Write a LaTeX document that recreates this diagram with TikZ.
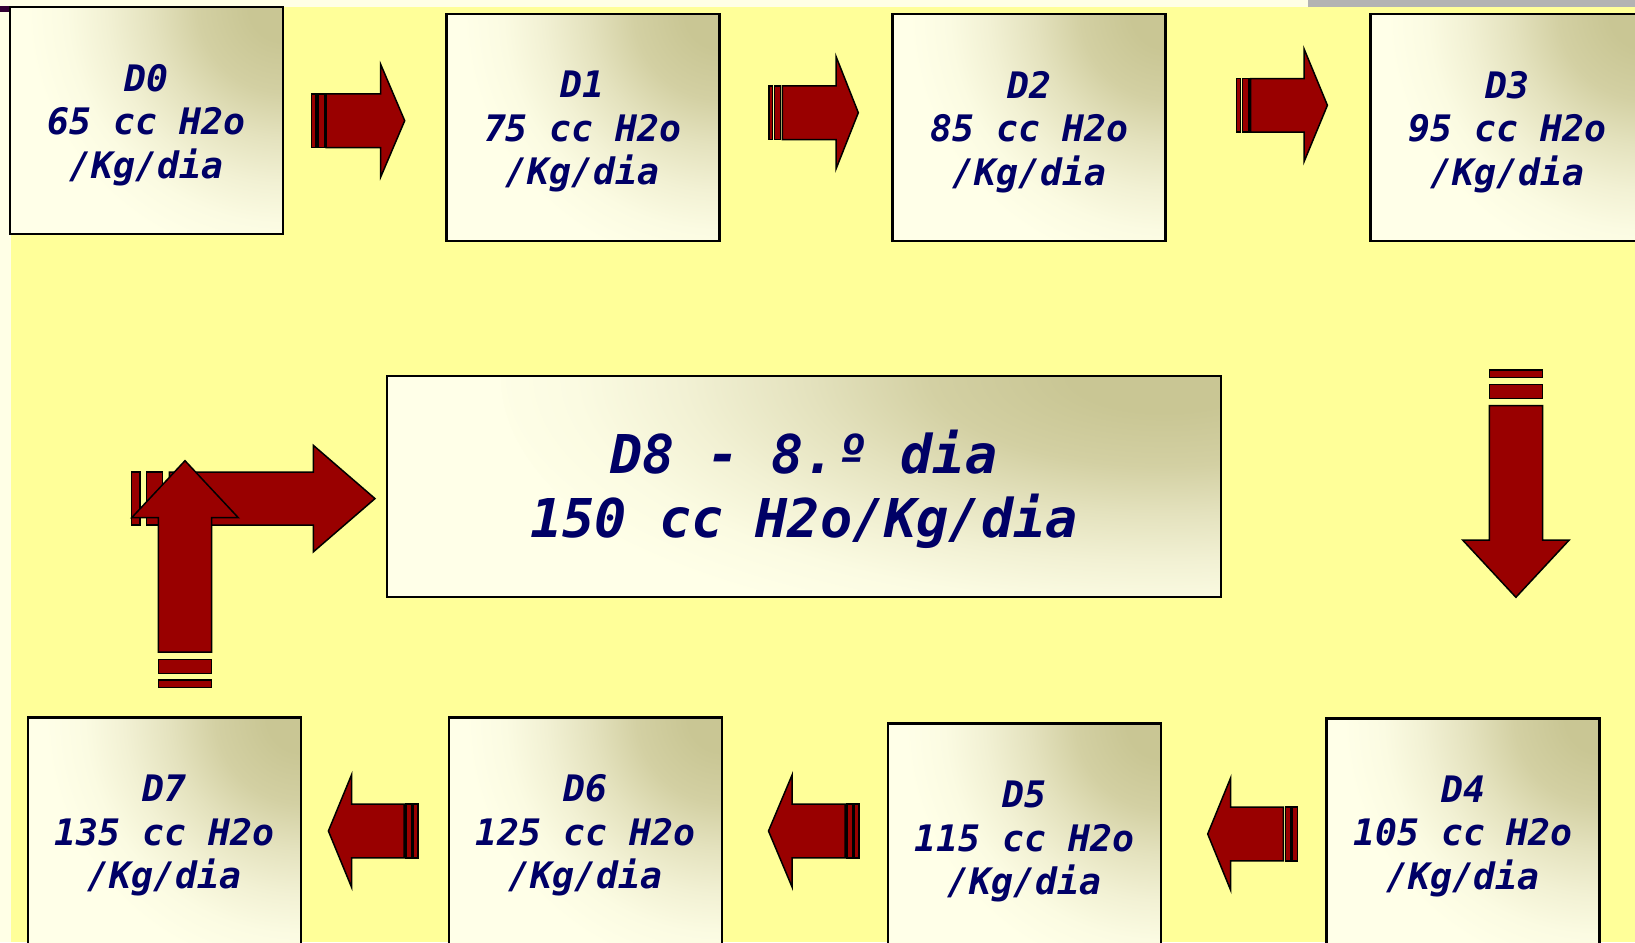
\documentclass[tikz,border=0pt]{standalone}
\usepackage{fontspec}
\newfontfamily\dmono{DejaVu Sans Mono}
\definecolor{bgyellow}{HTML}{FFFF99}
\definecolor{cream}{HTML}{FFFFE6}
\definecolor{boxlight}{HTML}{FFFFE8}
\definecolor{boxs1}{HTML}{D3D0A3}
\definecolor{boxs2}{HTML}{E4E2BE}
\definecolor{boxs3}{HTML}{F2F1D4}
\definecolor{boxs4}{HTML}{FBFBE2}
\definecolor{boxdark}{HTML}{C9C694}
\definecolor{arrred}{HTML}{990000}
\definecolor{navy}{HTML}{000066}
\definecolor{barg}{HTML}{B3B3B3}
\definecolor{markc}{HTML}{330033}
\pgfdeclareradialshading{cornershade}{\pgfpoint{0bp}{0bp}}{color(0bp)=(boxdark); color(3bp)=(boxdark); color(7.5bp)=(boxs1); color(11.5bp)=(boxs2); color(15.5bp)=(boxs3); color(19bp)=(boxs4); color(22.5bp)=(boxlight); color(50bp)=(boxlight)}
\tikzset{
  box/.style={draw=black, line width=2.5pt, minimum width=273pt, minimum height=227pt,
    inner sep=0pt, fill=boxlight,
    path picture={\shade[shading=cornershade] (path picture bounding box.north east) ellipse (285pt and 285pt);}},
  bigbox/.style={box, minimum width=834pt, minimum height=221pt,
    path picture={\shade[shading=cornershade] (path picture bounding box.north east) ellipse (720pt and 300pt);}},
  txt/.style={text=navy, align=center, inner sep=0pt,
    font=\dmono\bfseries\itshape\fontsize{36.5}{43.5}\selectfont},
  bigtxt/.style={txt, font=\dmono\bfseries\itshape\fontsize{53.5}{64}\selectfont},
  arr/.style={fill=arrred, draw=black, line width=1.5pt, line join=miter},
}
\newcommand\barr[9]{%
  \begin{scope}[shift={(#1,#2)},rotate=#3]
    \filldraw[arr] (0,-\bh) rectangle (#4,\bh);
    \filldraw[arr] (#5,-\bh) rectangle (#6,\bh);
    \filldraw[arr] (#7,-\bh) -- (#8,-\bh) -- (#8,-\hh) -- (#9,0) -- (#8,\hh) -- (#8,\bh) -- (#7,\bh) -- cycle;
  \end{scope}}
\begin{document}
\begin{tikzpicture}[x=1pt,y=-1pt]
\useasboundingbox (0,0) rectangle (1635,942);
\clip (0,0) rectangle (1635,942);
\fill[cream] (0,0) rectangle (1635,942);
\fill[bgyellow] (11,7) rectangle (1635,942);
\fill[barg] (1308,0) rectangle (1635,6.7);
\fill[markc] (0,6) rectangle (10,12);

% boxes
\node[box] (D0) at (146.5,120.3) {};
\node[box] (D1) at (582.9,127.3) {};
\node[box] (D2) at (1029.2,127.3) {};
\node[box] (D3) at (1507.2,127.4) {};
\node[box] (D4) at (1463,831.8) {};
\node[box] (D5) at (1024.5,837.1) {};
\node[box] (D6) at (585.5,830.9) {};
\node[box] (D7) at (164.5,831.2) {};
\node[bigbox] (D8) at (804,486.5) {};

\node[txt,yshift=-4.5pt] (T0) at (D0) {D0\\65 cc H2o\\/Kg/dia};
\node[txt,yshift=-4.5pt] (T1) at (D1) {D1\\75 cc H2o\\/Kg/dia};
\node[txt,yshift=-4.5pt] (T2) at (D2) {D2\\85 cc H2o\\/Kg/dia};
\node[txt,yshift=-4.5pt] (T3) at (D3) {D3\\95 cc H2o\\/Kg/dia};
\node[txt,yshift=-4.5pt] (T4) at (D4) {D4\\105 cc H2o\\/Kg/dia};
\node[txt,yshift=-4.5pt] (T5) at (D5) {D5\\115 cc H2o\\/Kg/dia};
\node[txt,yshift=-4.5pt] (T6) at (D6) {D6\\125 cc H2o\\/Kg/dia};
\node[txt,yshift=-4.5pt] (T7) at (D7) {D7\\135 cc H2o\\/Kg/dia};
\node[bigtxt,yshift=-3pt] (T8) at (D8) {D8 - 8.º dia\\150 cc H2o/Kg/dia};

% short arrows
\def\bh{26.8}\def\hh{56.3}
\barr{311.7}{120.7}{0}{4.3}{6.3}{13.3}{14.5}{69}{93}
\barr{769}{112.7}{0}{3.5}{5.3}{11.7}{13.3}{67}{89.3}
\barr{1236.6}{105.3}{0}{4}{6}{12.5}{14}{67.5}{90.8}
\barr{1297.3}{834}{180}{4.6}{6.3}{12}{14}{66.6}{89.6}
\barr{859.2}{831}{180}{4.5}{6.3}{12}{14}{67}{90.7}
\barr{418.1}{831}{180}{4.5}{6.3}{12}{14}{66.5}{89.7}

% long arrows
\def\bh{26.6}\def\hh{53.3}
\barr{1515.9}{370}{-90}{7.3}{14.3}{28.3}{35.7}{170}{227.3}
\def\bh{26.4}
\barr{131.7}{498.6}{0}{8.3}{15}{30.6}{37.6}{181.6}{243.3}
\def\bh{26.6}
\barr{185}{687.7}{90}{7.7}{14.4}{28.4}{35.5}{170}{227}
\end{tikzpicture}
\end{document}
